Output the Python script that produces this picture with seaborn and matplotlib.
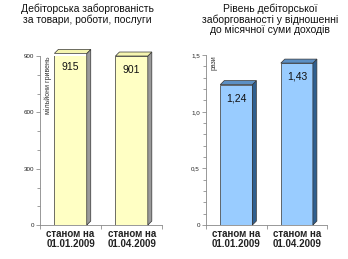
import matplotlib
matplotlib.use("Agg")
import matplotlib.pyplot as plt
import seaborn as sns
import pandas as pd
import numpy as np
from matplotlib.patches import Polygon
from matplotlib.ticker import MultipleLocator, FixedLocator

sns.set_style("white")
plt.rcParams['font.family'] = ['Liberation Sans', 'DejaVu Sans']

categories = ["станом на\n01.01.2009", "станом на\n01.04.2009"]
debt_values = [915, 901]
ratio_values = [1.24, 1.43]
debt_labels = ["915", "901"]
ratio_labels = ["1,24", "1,43"]
title_left = "Дебіторська заборгованість\nза товари, роботи, послуги"
title_right = "Рівень дебіторської\nзаборгованості у відношенні\nдо місячної суми доходів"
ylabel_left = "мільйони гривень"
ylabel_right = "рази"

fig = plt.figure(figsize=(3.48, 2.59), dpi=100)
axL = fig.add_axes([0.115, 0.131, 0.351, 0.652])
axR = fig.add_axes([0.592, 0.131, 0.348, 0.656])

def draw(ax, vals, labels, front, top, side, ymax, major, minor, fmt, ylabel):
    df = pd.DataFrame({"cat": categories, "val": vals})
    sns.barplot(data=df, x="cat", y="val", ax=ax, color=front, width=0.53,
                edgecolor="#333333", linewidth=0.5, saturation=1)
    ax.set_ylim(0, ymax)
    ax.set_xlim(-0.5, 1.5)
    ax.set_xlabel("")
    ax.set_ylabel("")
    ax.yaxis.set_minor_locator(MultipleLocator(minor))
    ticks = np.arange(0, ymax + major / 2, major)
    ax.set_yticks(ticks)
    ax.set_yticklabels([fmt(v) for v in ticks], fontsize=4.5, color="#222222")
    ax.tick_params(axis="y", which="major", length=3, width=0.5, color="#777777", pad=1.5, left=True)
    ax.tick_params(axis="y", which="minor", length=2, width=0.5, color="#777777", left=True)
    ax.xaxis.set_minor_locator(FixedLocator([-0.5, 0.5, 1.5]))
    ax.tick_params(axis="x", which="major", length=0, pad=3)
    ax.tick_params(axis="x", which="minor", length=3, width=0.5, color="#777777", bottom=True)
    for lab in ax.get_xticklabels():
        lab.set_fontsize(7)
        lab.set_fontweight("bold")
        lab.set_color("#222222")
        lab.set_linespacing(1.0)
    for s in ["top", "right"]:
        ax.spines[s].set_visible(False)
    for s in ["left", "bottom"]:
        ax.spines[s].set_color("#888888")
        ax.spines[s].set_linewidth(0.6)
    # 3D faces
    fig.canvas.draw()
    inv = ax.transData.inverted()
    d = 4.0
    for p, lab in zip(ax.patches, labels):
        bb = p.get_window_extent()
        x0, y0, x1, y1 = bb.x0, bb.y0, bb.x1, bb.y1
        topf = [(x0, y1), (x1, y1), (x1 + d, y1 + d), (x0 + d, y1 + d)]
        sidef = [(x1, y0), (x1 + d, y0 + d), (x1 + d, y1 + d), (x1, y1)]
        for pts, c in [(sidef, side), (topf, top)]:
            dp = inv.transform(pts)
            ax.add_patch(Polygon(dp, closed=True, facecolor=c, edgecolor="#333333",
                                 linewidth=0.5, clip_on=False, zorder=3))
        cx = p.get_x() + p.get_width() / 2
        ax.annotate(lab, (cx, p.get_height()), xytext=(0, -10), textcoords="offset points",
                    ha="center", va="center", fontsize=7.5, color="#111111", zorder=4,
                    annotation_clip=False)
    ax.text(0.035, 1.0, ylabel, transform=ax.transAxes, rotation=90, ha="left", va="top",
            fontsize=5, color="#333333")

draw(axL, debt_values, debt_labels, "#FFFFC4", "#F5F5B0", "#9A9A9A", 900, 300, 100,
     lambda v: f"{int(v)}", ylabel_left)
draw(axR, ratio_values, ratio_labels, "#99CCFF", "#5B8FC4", "#2F5F8F", 1.5, 0.5, 0.1,
     lambda v: ("0" if v == 0 else f"{v:.1f}".replace(".", ",")), ylabel_right)

fig.text(0.25, 0.985, title_left, ha="center", va="top", fontsize=7.5, color="#111111",
         linespacing=1.0)
fig.text(0.776, 0.985, title_right, ha="center", va="top", fontsize=7.5, color="#111111",
         linespacing=1.0)

fig.savefig("out.png", dpi=100)
